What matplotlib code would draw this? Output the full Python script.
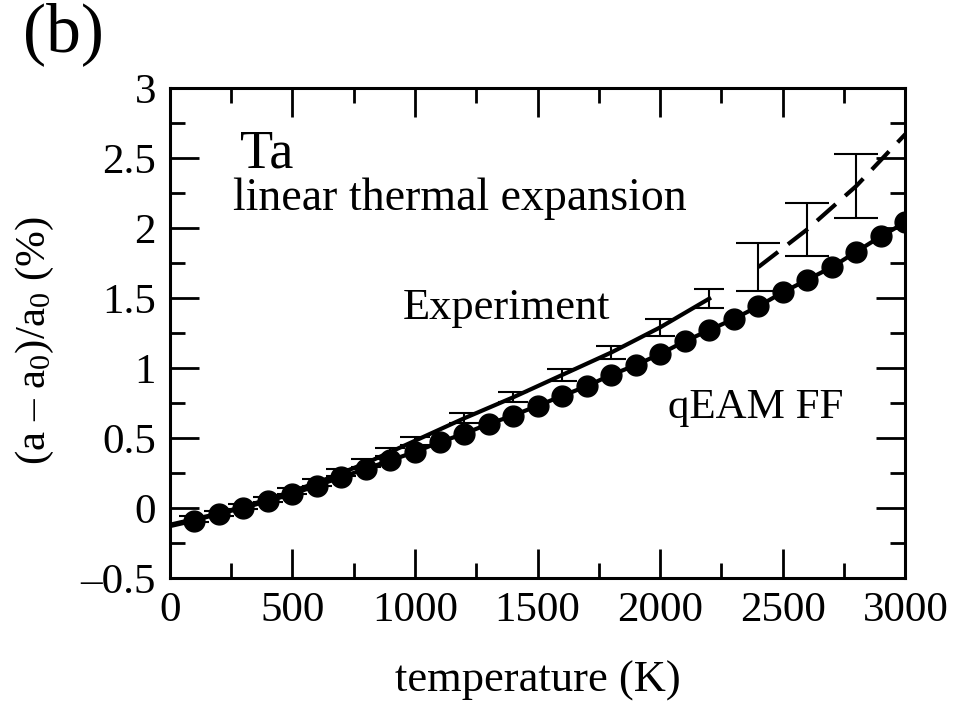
import numpy as np
import matplotlib.pyplot as plt
from matplotlib.ticker import MultipleLocator, FuncFormatter

plt.rcParams['font.family'] = ['Liberation Serif', 'DejaVu Serif']
plt.rcParams['mathtext.fontset'] = 'custom'
plt.rcParams['mathtext.rm'] = 'Liberation Serif'
plt.rcParams['mathtext.it'] = 'Liberation Serif:italic'

# qEAM FF (simulacion)
t_qeam = [100, 200, 300, 400, 500, 600, 700, 800, 900, 1000,
          1100, 1200, 1300, 1400, 1500, 1600, 1700, 1800, 1900, 2000,
          2100, 2200, 2300, 2400, 2500, 2600, 2700, 2800, 2900, 3000]
y_qeam = [-0.09, -0.04, 0.00, 0.05, 0.10, 0.16, 0.22, 0.28, 0.34, 0.40,
          0.47, 0.53, 0.60, 0.66, 0.73, 0.80, 0.87, 0.95, 1.02, 1.10,
          1.19, 1.27, 1.35, 1.44, 1.54, 1.63, 1.72, 1.83, 1.94, 2.04]

# Experimento (linea continua hasta 2200 K)
t_exp = [0, 100, 200, 300, 400, 500, 600, 700, 800, 900, 1000,
         1200, 1400, 1600, 1800, 2000, 2200]
y_exp = [-0.12, -0.08, -0.04, 0.01, 0.06, 0.12, 0.18, 0.25, 0.32, 0.40, 0.48,
         0.64, 0.79, 0.95, 1.11, 1.29, 1.495]
err_exp = [0.0, 0.02, 0.02, 0.02, 0.02, 0.02, 0.025, 0.025, 0.03, 0.03, 0.03,
           0.035, 0.035, 0.045, 0.048, 0.063, 0.07]

# Experimento a alta temperatura (linea discontinua)
t_hot = [2400, 2600, 2800, 3000]
y_hot = [1.72, 1.99, 2.30, 2.67]
err_hot = [0.17, 0.19, 0.23, 0.0]

fig = plt.figure(figsize=(9.54, 7.27), dpi=100)
ax = fig.add_axes([0.178, 0.205, 0.771, 0.674])

ax.plot(t_qeam, y_qeam, '-', color='black', lw=3)
ax.plot([0] + t_qeam[:1], [-0.13, y_qeam[0]], '-', color='black', lw=3)
ax.plot(t_qeam, y_qeam, 'o', color='black', ms=15)

ax.plot(t_exp, y_exp, '-', color='black', lw=3)
ax.errorbar(t_exp[1:], y_exp[1:], yerr=err_exp[1:], fmt='none', ecolor='black',
            elinewidth=1.5, capsize=11, capthick=1.5)

ax.plot(t_hot, y_hot, '--', color='black', lw=3, dashes=(6, 3))
ax.errorbar(t_hot[:-1], y_hot[:-1], yerr=err_hot[:-1], fmt='none', ecolor='black',
            elinewidth=1.5, capsize=16, capthick=1.5)

ax.set_xlim(0, 3000)
ax.set_ylim(-0.5, 3)
ax.xaxis.set_major_locator(MultipleLocator(500))
ax.xaxis.set_minor_locator(MultipleLocator(250))
ax.yaxis.set_major_locator(MultipleLocator(0.5))
ax.yaxis.set_minor_locator(MultipleLocator(0.25))
ax.yaxis.set_major_formatter(FuncFormatter(lambda v, p: ('%g' % v).replace('-', '\u2013')))

ax.tick_params(which='both', direction='in', top=True, right=True, width=2,
               labelsize=31, pad=10)
ax.tick_params(which='major', length=21)
ax.tick_params(which='minor', length=11)
for s in ax.spines.values():
    s.set_linewidth(2.2)

ax.set_xlabel('temperature (K)', fontsize=32, labelpad=22)
ax.set_ylabel('(a \u2013 a$_0$)/a$_0$ (%)', fontsize=31)
ax.yaxis.set_label_coords(-0.155, 0.485)

ax.text(286, 2.435, 'Ta', fontsize=39)
ax.text(257, 2.13, 'linear thermal expansion', fontsize=33)
ax.text(951, 1.35, 'Experiment', fontsize=32)
ax.text(2033, 0.643, 'qEAM FF', fontsize=31)

fig.text(0.024, 0.93, '(b)', fontsize=50)

fig.savefig('out.png', dpi=100)
